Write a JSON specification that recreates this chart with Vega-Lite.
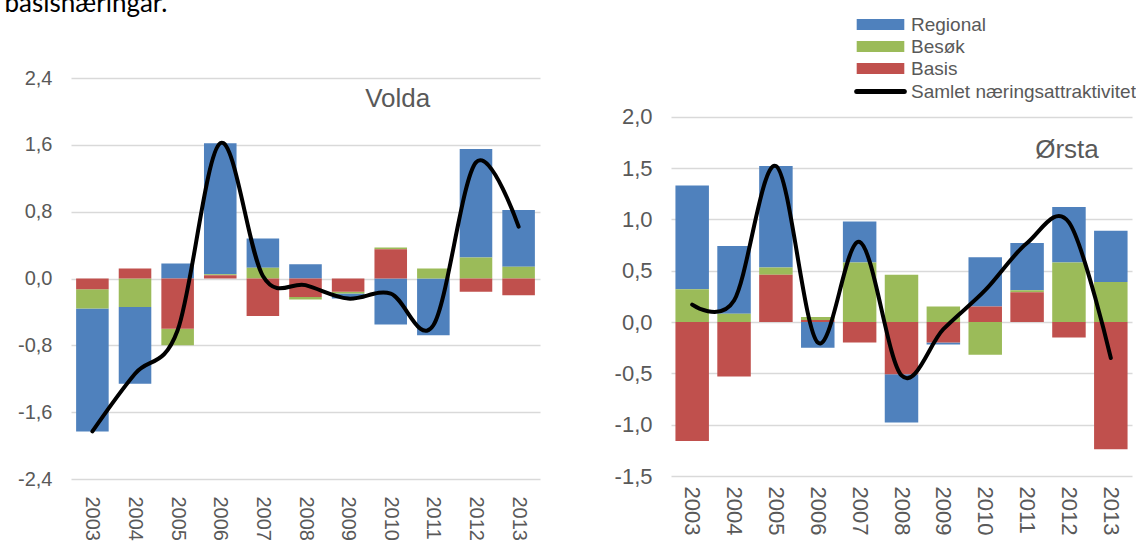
{
  "$schema": "https://vega.github.io/schema/vega-lite/v6.json",
  "background": "white",
  "padding": {"left": 4, "top": -9, "right": 0, "bottom": 0},
  "title": {"text": "basisnæringar.", "anchor": "start", "frame": "bounds", "font": "Lato", "fontSize": 26, "fontWeight": "normal", "color": "#000000", "dx": -13, "offset": -2},
  "config": {
    "locale": {"number": {"decimal": ",", "thousands": " ", "grouping": [3], "currency": ["", " kr"], "minus": "-"}},
    "view": {"stroke": null},
    "axis": {"labelFont": "Liberation Sans", "labelColor": "#595959", "domain": false, "ticks": false, "tickSize": 0, "title": null, "gridColor": "#d9d9d9", "gridWidth": 1.5}
  },
  "datasets": {
    "volda": [
      {"year": "2003", "component": "Regional", "value": -1.47}, {"year": "2003", "component": "Besøk", "value": -0.23}, {"year": "2003", "component": "Basis", "value": -0.13},
      {"year": "2004", "component": "Regional", "value": -0.92}, {"year": "2004", "component": "Besøk", "value": -0.34}, {"year": "2004", "component": "Basis", "value": 0.12},
      {"year": "2005", "component": "Regional", "value": 0.18}, {"year": "2005", "component": "Besøk", "value": -0.20}, {"year": "2005", "component": "Basis", "value": -0.60},
      {"year": "2006", "component": "Regional", "value": 1.57}, {"year": "2006", "component": "Besøk", "value": 0.01}, {"year": "2006", "component": "Basis", "value": 0.04},
      {"year": "2007", "component": "Regional", "value": 0.35}, {"year": "2007", "component": "Besøk", "value": 0.13}, {"year": "2007", "component": "Basis", "value": -0.45},
      {"year": "2008", "component": "Regional", "value": 0.17}, {"year": "2008", "component": "Besøk", "value": -0.03}, {"year": "2008", "component": "Basis", "value": -0.22},
      {"year": "2009", "component": "Regional", "value": -0.06}, {"year": "2009", "component": "Besøk", "value": -0.02}, {"year": "2009", "component": "Basis", "value": -0.16},
      {"year": "2010", "component": "Regional", "value": -0.55}, {"year": "2010", "component": "Besøk", "value": 0.02}, {"year": "2010", "component": "Basis", "value": 0.35},
      {"year": "2011", "component": "Regional", "value": -0.68}, {"year": "2011", "component": "Besøk", "value": 0.12}, {"year": "2011", "component": "Basis", "value": 0.0},
      {"year": "2012", "component": "Regional", "value": 1.30}, {"year": "2012", "component": "Besøk", "value": 0.25}, {"year": "2012", "component": "Basis", "value": -0.16},
      {"year": "2013", "component": "Regional", "value": 0.68}, {"year": "2013", "component": "Besøk", "value": 0.14}, {"year": "2013", "component": "Basis", "value": -0.20}
    ],
    "orsta": [
      {"year": "2003", "component": "Regional", "value": 1.01}, {"year": "2003", "component": "Besøk", "value": 0.32}, {"year": "2003", "component": "Basis", "value": -1.16},
      {"year": "2004", "component": "Regional", "value": 0.66}, {"year": "2004", "component": "Besøk", "value": 0.08}, {"year": "2004", "component": "Basis", "value": -0.53},
      {"year": "2005", "component": "Regional", "value": 0.99}, {"year": "2005", "component": "Besøk", "value": 0.07}, {"year": "2005", "component": "Basis", "value": 0.46},
      {"year": "2006", "component": "Regional", "value": -0.25}, {"year": "2006", "component": "Besøk", "value": 0.03}, {"year": "2006", "component": "Basis", "value": 0.02},
      {"year": "2007", "component": "Regional", "value": 0.40}, {"year": "2007", "component": "Besøk", "value": 0.58}, {"year": "2007", "component": "Basis", "value": -0.20},
      {"year": "2008", "component": "Regional", "value": -0.47}, {"year": "2008", "component": "Besøk", "value": 0.46}, {"year": "2008", "component": "Basis", "value": -0.51},
      {"year": "2009", "component": "Regional", "value": -0.02}, {"year": "2009", "component": "Besøk", "value": 0.15}, {"year": "2009", "component": "Basis", "value": -0.20},
      {"year": "2010", "component": "Regional", "value": 0.48}, {"year": "2010", "component": "Besøk", "value": -0.32}, {"year": "2010", "component": "Basis", "value": 0.15},
      {"year": "2011", "component": "Regional", "value": 0.46}, {"year": "2011", "component": "Besøk", "value": 0.02}, {"year": "2011", "component": "Basis", "value": 0.29},
      {"year": "2012", "component": "Regional", "value": 0.54}, {"year": "2012", "component": "Besøk", "value": 0.58}, {"year": "2012", "component": "Basis", "value": -0.15},
      {"year": "2013", "component": "Regional", "value": 0.50}, {"year": "2013", "component": "Besøk", "value": 0.39}, {"year": "2013", "component": "Basis", "value": -1.24}
    ]
  },
  "spacing": 74,
  "resolve": {"scale": {"color": "shared"}, "legend": {"color": "shared"}},
  "hconcat": [
    {
      "width": 469,
      "height": 401,
      "data": {"name": "volda"},
      "encoding": {
        "x": {"field": "year", "type": "nominal", "scale": {"paddingInner": 0.236, "paddingOuter": 0.12}, "axis": {"labelAngle": 90, "labelFontSize": 20, "labelPadding": 17}}
      },
      "layer": [
        {
          "mark": {"type": "bar"},
          "encoding": {
            "y": {"field": "value", "type": "quantitative", "stack": "zero", "scale": {"domain": [-2.4, 2.4], "nice": false}, "axis": {"values": [-2.4, -1.6, -0.8, 0, 0.8, 1.6, 2.4], "format": ".1f", "labelFontSize": 20, "labelPadding": 19}},
            "order": {"field": "component", "sort": "ascending"},
            "color": {"field": "component", "type": "nominal",
              "scale": {"domain": ["Regional", "Besøk", "Basis", "Samlet næringsattraktivitet"], "range": ["#4F81BD", "#9BBB59", "#C0504D", "#000000"]},
              "legend": {"title": null, "orient": "none", "legendX": 800, "legendY": -63, "direction": "vertical", "padding": 0,
                "symbolType": "M-1,-0.23H1V0.23H-1Z", "symbolSize": 2266, "symbolStrokeWidth": 0,
                "labelFont": "Liberation Sans", "labelFontSize": 19, "labelColor": "#595959", "labelOffset": 21, "labelLimit": 400, "rowPadding": 2,
                "encode": {"symbols": {"update": {
                  "fill": {"signal": "datum.value === 'Samlet næringsattraktivitet' ? 'transparent' : scale('color', datum.value)"},
                  "shape": {"signal": "datum.value === 'Samlet næringsattraktivitet' ? 'M-1,0H1' : 'M-1,-0.23H1V0.23H-1Z'"},
                  "stroke": {"signal": "datum.value === 'Samlet næringsattraktivitet' ? '#000000' : 'transparent'"},
                  "strokeWidth": {"signal": "datum.value === 'Samlet næringsattraktivitet' ? 5 : 0"},
                  "strokeCap": {"value": "round"},
                  "opacity": {"value": 1}
                }}}}
            }
          }
        },
        {
          "mark": {"type": "rule", "color": "#d9d9d9", "strokeWidth": 3},
          "encoding": {"y": {"datum": 0}}
        },
        {
          "mark": {"type": "line", "interpolate": "cardinal", "strokeWidth": 4, "strokeCap": "round"},
          "encoding": {
            "y": {"aggregate": "sum", "field": "value", "type": "quantitative"},
            "color": {"datum": "Samlet næringsattraktivitet"}
          }
        },
        {
          "data": {"values": [{"label": "Volda"}]},
          "mark": {"type": "text", "font": "Liberation Sans", "fontSize": 26, "color": "#595959", "dx": 7, "baseline": "middle"},
          "encoding": {"x": {"datum": "2010"}, "y": {"datum": 2.15}, "text": {"field": "label"}}
        }
      ]
    },
    {
      "width": 461,
      "height": 398,
      "data": {"name": "orsta"},
      "encoding": {
        "x": {"field": "year", "type": "nominal", "scale": {"paddingInner": 0.2, "paddingOuter": 0.106}, "axis": {"labelAngle": 90, "labelFontSize": 22, "labelPadding": 10}}
      },
      "layer": [
        {
          "mark": {"type": "bar"},
          "encoding": {
            "y": {"field": "value", "type": "quantitative", "stack": "zero", "scale": {"domain": [-1.5, 2.377], "nice": false}, "axis": {"values": [-1.5, -1, -0.5, 0, 0.5, 1, 1.5, 2], "format": ".1f", "labelFontSize": 22, "labelPadding": 19}},
            "order": {"field": "component", "sort": "ascending"},
            "color": {"field": "component", "type": "nominal",
              "scale": {"domain": ["Regional", "Besøk", "Basis", "Samlet næringsattraktivitet"], "range": ["#4F81BD", "#9BBB59", "#C0504D", "#000000"]},
              "legend": {"title": null, "orient": "none", "legendX": 800, "legendY": -63, "direction": "vertical", "padding": 0,
                "symbolType": "M-1,-0.23H1V0.23H-1Z", "symbolSize": 2266, "symbolStrokeWidth": 0,
                "labelFont": "Liberation Sans", "labelFontSize": 19, "labelColor": "#595959", "labelOffset": 21, "labelLimit": 400, "rowPadding": 2,
                "encode": {"symbols": {"update": {
                  "fill": {"signal": "datum.value === 'Samlet næringsattraktivitet' ? 'transparent' : scale('color', datum.value)"},
                  "shape": {"signal": "datum.value === 'Samlet næringsattraktivitet' ? 'M-1,0H1' : 'M-1,-0.23H1V0.23H-1Z'"},
                  "stroke": {"signal": "datum.value === 'Samlet næringsattraktivitet' ? '#000000' : 'transparent'"},
                  "strokeWidth": {"signal": "datum.value === 'Samlet næringsattraktivitet' ? 5 : 0"},
                  "strokeCap": {"value": "round"},
                  "opacity": {"value": 1}
                }}}}
            }
          }
        },
        {
          "mark": {"type": "rule", "color": "#d9d9d9", "strokeWidth": 2},
          "encoding": {"y": {"datum": 0}}
        },
        {
          "mark": {"type": "line", "interpolate": "cardinal", "strokeWidth": 4, "strokeCap": "round"},
          "encoding": {
            "y": {"aggregate": "sum", "field": "value", "type": "quantitative"},
            "color": {"datum": "Samlet næringsattraktivitet"}
          }
        },
        {
          "data": {"values": [{"label": "Ørsta"}]},
          "mark": {"type": "text", "font": "Liberation Sans", "fontSize": 26, "color": "#595959", "dx": -2, "baseline": "middle"},
          "encoding": {"x": {"datum": "2012"}, "y": {"datum": 1.676}, "text": {"field": "label"}}
        }
      ]
    }
  ]
}
